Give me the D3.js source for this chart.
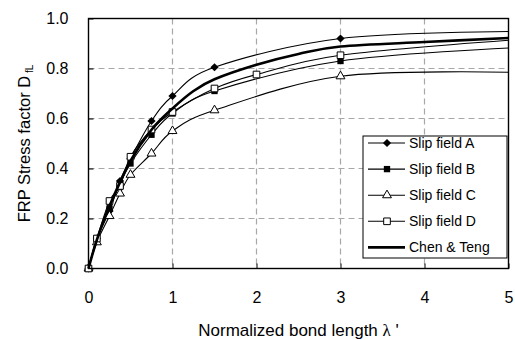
<!DOCTYPE html>
<html>
<head>
<meta charset="utf-8">
<script src="https://cdn.jsdelivr.net/npm/d3@7"></script>
<style>
  body { margin: 0; background: #fff; }
  svg { display: block; font-family: "Liberation Sans", Arial, sans-serif; }
</style>
</head>
<body>
<div id="chart"></div>
<script>
// data (x = normalized bond length, y = stress factor)
var xSlip  = [0, 0.1, 0.25, 0.375, 0.5, 0.75, 1, 1.5, 3, 5];
var slipA  = [0, 0.12, 0.23, 0.35, 0.44, 0.59, 0.69, 0.805, 0.92, 0.948];
var slipB  = [0, 0.12, 0.24, 0.34, 0.42, 0.535, 0.62, 0.71, 0.83, 0.882];
var slipC  = [0, 0.105, 0.21, 0.30, 0.375, 0.46, 0.55, 0.633, 0.769, 0.785];
var xSlipD = [0, 0.1, 0.25, 0.375, 0.5, 0.75, 1, 1.5, 2, 3, 5];
var slipD  = [0, 0.12, 0.27, 0.33, 0.447, 0.556, 0.626, 0.72, 0.776, 0.853, 0.913];
var xChen  = [0, 0.1, 0.25, 0.5, 0.75, 1, 1.25, 1.5, 2, 2.5, 3, 4, 5];
var chenTeng = [0, 0.115, 0.25, 0.43, 0.555, 0.64, 0.71, 0.757, 0.815, 0.858, 0.888, 0.906, 0.922];
var lastMarkedX = 3; // end point at 5 is line only
var seriesNames = ['Slip field A', 'Slip field B', 'Slip field C', 'Slip field D', 'Chen & Teng'];
var xTicks = [0, 1, 2, 3, 4, 5];
var yTicks = [0, 0.2, 0.4, 0.6, 0.8, 1.0];

var W = 515, H = 340;
var margin = {top: 18.5, right: 6.5, bottom: 71.5, left: 88.5},
    width = W - margin.left - margin.right,
    height = H - margin.top - margin.bottom;

var x = d3.scaleLinear().domain([0, 5]).range([0, width]);
var y = d3.scaleLinear().domain([0, 1]).range([height, 0]);

var svg = d3.select('#chart').append('svg')
    .attr('width', W).attr('height', H);
var g = svg.append('g')
    .attr('transform', 'translate(' + margin.left + ',' + margin.top + ')');

// dashed grid
g.selectAll('.hgrid').data(yTicks.slice(1, -1)).enter().append('line')
    .attr('x1', 0).attr('x2', width)
    .attr('y1', function(d){ return y(d); }).attr('y2', function(d){ return y(d); })
    .attr('stroke', '#a8a8a8').attr('stroke-width', 1.2).attr('stroke-dasharray', '6,4');
g.selectAll('.vgrid').data(xTicks.slice(1, -1)).enter().append('line')
    .attr('y1', 0).attr('y2', height)
    .attr('x1', function(d){ return x(d); }).attr('x2', function(d){ return x(d); })
    .attr('stroke', '#a8a8a8').attr('stroke-width', 1.2).attr('stroke-dasharray', '6,4');

// axes
var xAxis = d3.axisBottom(x).tickValues(xTicks).tickFormat(d3.format('d')).tickSize(-5).tickPadding(23);
var yAxis = d3.axisLeft(y).tickValues(yTicks).tickFormat(d3.format('.1f')).tickSize(-5).tickPadding(20);

g.append('g').attr('transform', 'translate(0,' + height + ')').call(xAxis)
    .call(function(a){ a.select('.domain').remove(); })
    .selectAll('text').attr('font-size', 16).attr('fill', '#000').attr('font-family', null);
g.append('g').call(yAxis)
    .call(function(a){ a.select('.domain').remove(); })
    .selectAll('text').attr('font-size', 16).attr('fill', '#000').attr('font-family', null);
g.selectAll('.tick line').attr('stroke', '#000');

// series
var line = d3.line()
    .x(function(d){ return x(d[0]); })
    .y(function(d){ return y(d[1]); })
    .curve(d3.curveCatmullRom.alpha(0));

var series = [
  {name: seriesNames[0], xs: xSlip,  ys: slipA, marker: 'diamond'},
  {name: seriesNames[1], xs: xSlip,  ys: slipB, marker: 'fsquare'},
  {name: seriesNames[2], xs: xSlip,  ys: slipC, marker: 'triangle'},
  {name: seriesNames[3], xs: xSlipD, ys: slipD, marker: 'hsquare'},
  {name: seriesNames[4], xs: xChen,  ys: chenTeng, marker: null}
];

function drawMarker(sel, type) {
  if (type === 'diamond') {
    sel.append('path').attr('d', d3.symbol().type(d3.symbolSquare).size(34)())
      .attr('transform', function(){ return (d3.select(this).attr('transform') || '') + ' rotate(45)'; })
      .attr('fill', '#000');
  } else if (type === 'fsquare') {
    sel.append('path').attr('d', d3.symbol().type(d3.symbolSquare).size(40)()).attr('fill', '#000');
  } else if (type === 'hsquare') {
    sel.append('path').attr('d', d3.symbol().type(d3.symbolSquare).size(44)())
      .attr('fill', '#fff').attr('stroke', '#000').attr('stroke-width', 1);
  } else if (type === 'triangle') {
    sel.append('path').attr('d', d3.symbol().type(d3.symbolTriangle).size(34)())
      .attr('fill', '#fff').attr('stroke', '#000').attr('stroke-width', 1);
  }
}

series.forEach(function(s){
  var pts = s.xs.map(function(v, i){ return [v, s.ys[i]]; });
  g.append('path').datum(pts)
    .attr('d', line).attr('fill', 'none').attr('stroke', '#000')
    .attr('stroke-width', s.marker ? 1.1 : 2.6);
  if (s.marker) {
    g.selectAll(null).data(pts.filter(function(p){ return p[0] <= lastMarkedX; }))
      .enter().append('g')
      .attr('transform', function(d){ return 'translate(' + x(d[0]) + ',' + y(d[1]) + ')'; })
      .each(function(){ drawMarker(d3.select(this), s.marker); });
  }
});

// frame
g.append('rect').attr('width', width).attr('height', height)
  .attr('fill', 'none').attr('stroke', '#000').attr('stroke-width', 1.4);

// legend
var lg = svg.append('g').attr('transform', 'translate(363,136)');
lg.append('rect').attr('width', 144).attr('height', 122)
  .attr('fill', '#fff').attr('stroke', '#000').attr('stroke-width', 1);
var item = lg.selectAll('.item').data(series).enter().append('g')
  .attr('transform', function(d, i){ return 'translate(0,' + (7 + i * 26.1) + ')'; });
item.append('line').attr('x1', 5).attr('x2', 42).attr('y1', 0).attr('y2', 0)
  .attr('stroke', '#000').attr('stroke-width', function(d){ return d.marker ? 1.1 : 2.6; });
item.each(function(d){
  if (d.marker) drawMarker(d3.select(this).append('g').attr('transform', 'translate(24,0)'), d.marker);
});
item.append('text').attr('x', 46).attr('dy', '0.36em').attr('font-size', 14)
  .text(function(d){ return d.name; });

// axis titles
var xt = svg.append('text')
  .attr('x', margin.left + width / 2).attr('y', 336)
  .attr('text-anchor', 'middle').attr('font-size', 17);
xt.append('tspan').text('Normalized bond length ');
xt.append('tspan').attr('font-family', '"Liberation Serif", "Times New Roman", serif').text('\u03bb');
xt.append('tspan').text(" '");

var yt = svg.append('text')
  .attr('transform', 'translate(30,' + (margin.top + height / 2) + ') rotate(-90)')
  .attr('text-anchor', 'middle').attr('font-size', 16.5);
yt.append('tspan').text('FRP Stress factor D');
yt.append('tspan').attr('font-size', 10).attr('dy', 3).text(' fL');
</script>
</body>
</html>
